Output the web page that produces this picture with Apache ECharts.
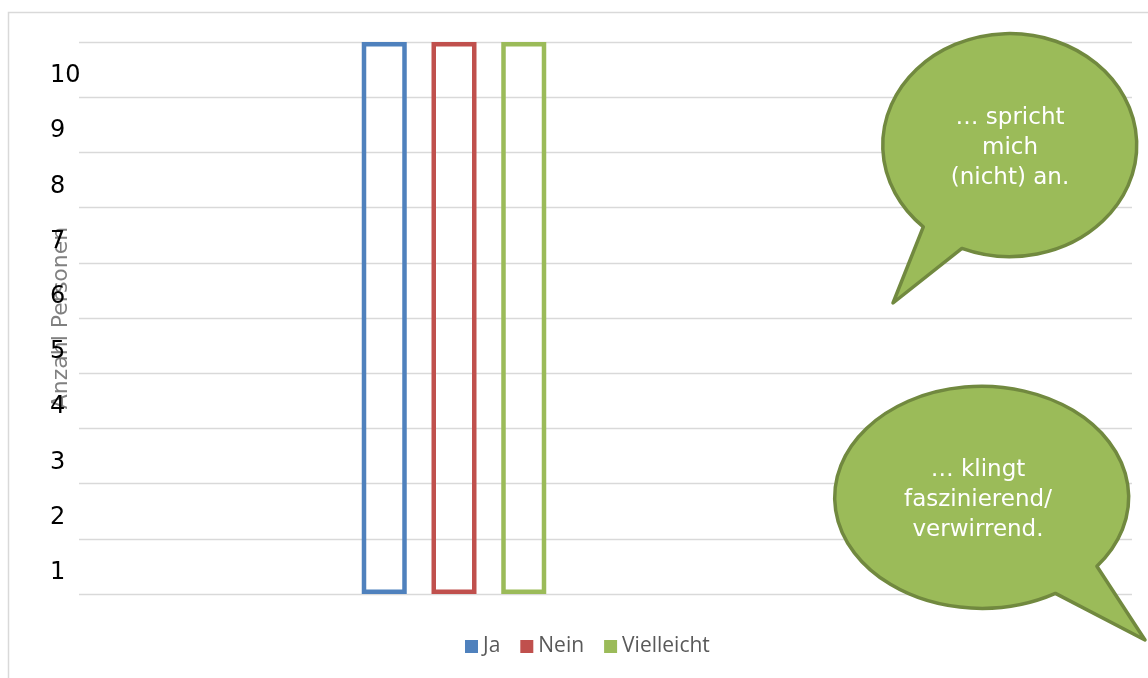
<!DOCTYPE html>
<html>
<head>
<meta charset="utf-8">
<script src="https://cdn.jsdelivr.net/npm/echarts@6/dist/echarts.min.js"></script>
<style>
  html, body { margin: 0; padding: 0; background: #ffffff; }
  #chart { width: 1148px; height: 678px; }
</style>
</head>
<body>
<div id="chart"></div>
<script>
// ---- data ----
const categories = [''];
const seriesNames = ['Ja', 'Nein', 'Vielleicht'];
const jaValues = [10];
const neinValues = [10];
const vielleichtValues = [10];
const seriesColors = ['#4F81BD', '#C0504D', '#9BBB59'];
const yTickLabels = ['', '1', '2', '3', '4', '5', '6', '7', '8', '9', '10'];
const yAxisTitle = 'Anzahl Personen';
const bubbleTexts = ['… spricht\nmich\n(nicht) an.', '… klingt\nfaszinierend/\nverwirrend.'];

const seriesValues = [jaValues, neinValues, vielleichtValues];

const chart = echarts.init(document.getElementById('chart'), null, { renderer: 'canvas' });

const bubbleFill = '#9BBB59';
const bubbleStroke = '#71893F';

function renderBubbles() {
  return {
    type: 'group',
    children: [
      {
        type: 'path', z2: 10,
        shape: { pathData: 'M923.3,226.8 A127,111.5 0 1 1 961.9,248.4 L893,303 Z' },
        style: { fill: bubbleFill, stroke: bubbleStroke, lineWidth: 3.5, lineJoin: 'round' }
      },
      {
        type: 'text', z2: 11, x: 1010, y: 148,
        style: { text: bubbleTexts[0], fill: '#ffffff', font: '23px "DejaVu Sans"',
                 lineHeight: 30, align: 'center', verticalAlign: 'middle' }
      },
      {
        type: 'path', z2: 10,
        shape: { pathData: 'M1096.9,566.3 A147,111 0 1 0 1055.4,593.4 L1145,640 Z' },
        style: { fill: bubbleFill, stroke: bubbleStroke, lineWidth: 3.5, lineJoin: 'round' }
      },
      {
        type: 'text', z2: 11, x: 978, y: 500,
        style: { text: bubbleTexts[1], fill: '#ffffff', font: '23px "DejaVu Sans"',
                 lineHeight: 30, align: 'center', verticalAlign: 'middle' }
      }
    ]
  };
}

const option = {
  backgroundColor: '#ffffff',
  animation: false,
  grid: [
    { left: 79, right: 16, top: 42, bottom: 84 },
    { left: 79, width: 750, top: 42, bottom: 84 }
  ],
  xAxis: [
    { type: 'category', gridIndex: 0, data: categories, show: false },
    { type: 'category', gridIndex: 1, data: categories,
      axisLine: { show: false }, axisTick: { show: false }, axisLabel: { show: false } }
  ],
  yAxis: [
    {
      type: 'value', gridIndex: 0, min: 0, max: 10, interval: 1,
      axisLine: { show: false }, axisTick: { show: false },
      splitLine: { lineStyle: { color: '#d9d9d9', width: 1.3 } },
      axisLabel: {
        formatter: function (v) {
          const t = yTickLabels[v];
          return t ? '{s| }\n{n|' + t + '}' : '';
        },
        align: 'left', margin: 29, verticalAlign: 'top',
        showMaxLabel: true, showMinLabel: true, hideOverlap: false,
        rich: {
          s: { fontSize: 10, lineHeight: 22, fontFamily: 'DejaVu Sans' },
          n: { fontSize: 24, lineHeight: 24, fontFamily: 'DejaVu Sans', color: '#000000' }
        }
      },
      name: yAxisTitle, nameLocation: 'middle', nameRotate: 90, nameGap: 7,
      nameMoveOverlap: false,
      nameTextStyle: { fontSize: 22, fontFamily: 'DejaVu Sans', color: '#808080' }
    },
    {
      type: 'value', gridIndex: 1, min: 0, max: 10, interval: 1, show: false,
      splitLine: { show: false }
    }
  ],
  legend: {
    left: 460, top: 631,
    itemWidth: 13, itemHeight: 13, itemGap: 20,
    icon: 'rect',
    textStyle: { fontSize: 21, fontFamily: 'Open Sans', color: '#595959' },
    data: seriesNames.map(function (n, i) {
      return { name: n, itemStyle: { color: seriesColors[i], borderWidth: 0 } };
    })
  },
  series: seriesNames.map(function (n, i) {
    return {
      name: n, type: 'bar', xAxisIndex: 1, yAxisIndex: 1,
      data: seriesValues[i],
      barWidth: 45, barGap: '55%',
      itemStyle: { color: 'rgba(255,255,255,0)', borderColor: seriesColors[i], borderWidth: 4.5 },
      emphasis: { disabled: true }
    };
  }).concat([{
    name: 'bubbles', type: 'custom', coordinateSystem: 'none', silent: true, z: 10,
    data: [0], renderItem: renderBubbles
  }]),
  graphic: [
    {
      type: 'rect', z: -1, silent: true,
      shape: { x: 8.5, y: 12.5, width: 1200, height: 700 },
      style: { fill: 'none', stroke: '#d9d9d9', lineWidth: 1.5 }
    }
  ]
};

chart.setOption(option);
</script>
</body>
</html>
